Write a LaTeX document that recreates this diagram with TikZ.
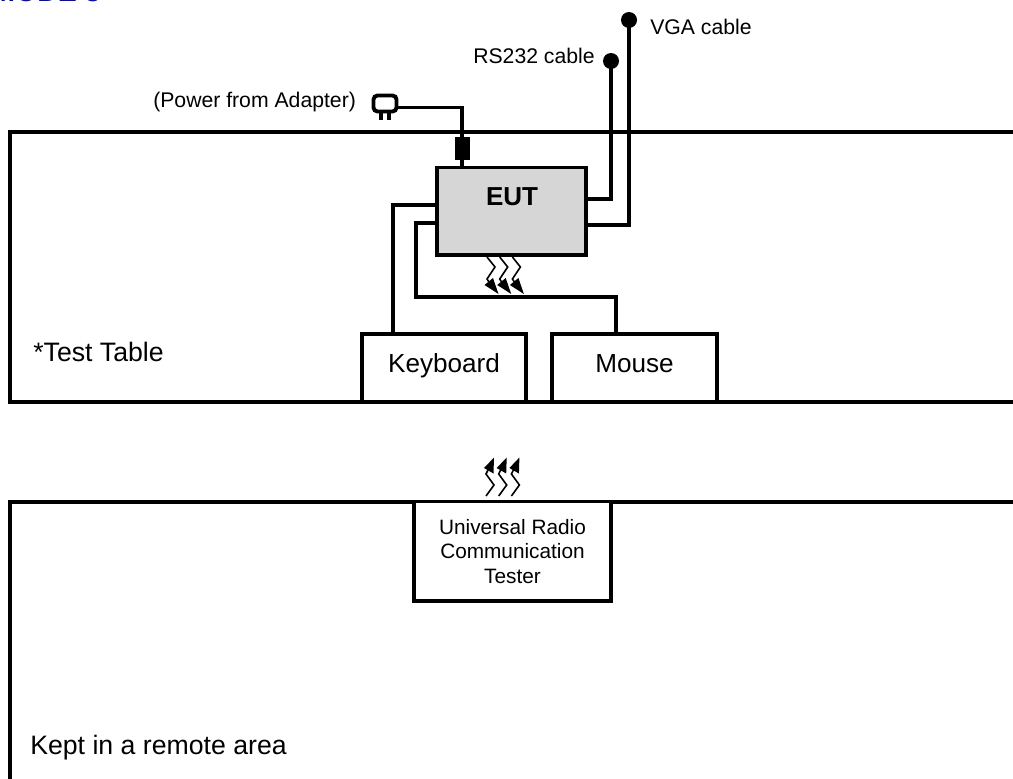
\documentclass[tikz,border=0pt]{standalone}
\usepackage{fontspec}
\setmainfont{Liberation Sans}
\usetikzlibrary{calc}
\tikzset{
  x=0.75pt,y=-0.75pt,
  wire/.style={line width=2.5pt,line join=miter},
  boxed/.style={draw=black,line width=2.5pt,inner sep=0pt,outer sep=0pt,anchor=north west},
  big/.style={font=\fontsize{19.6pt}{23pt}\selectfont},
  small/.style={font=\fontsize{15.9pt}{19pt}\selectfont},
  zig/.style={line width=1.2pt,line join=miter},
  head/.style={fill=black,draw=none},
}
\begin{document}
\begin{tikzpicture}
\useasboundingbox (0,0) rectangle (1013,778);
% title, cut off by the page edge as in the reference
\node[anchor=base east,text=blue,inner sep=0pt,font=\fontsize{21.4pt}{25pt}\selectfont\bfseries] (title) at (101,2) {MODE 3};
% tables
\draw[wire] (1020,132) -- (10,132) -- (10,402) -- (1020,402);
\draw[wire] (1020,502) -- (10,502) -- (10,790);
% boxes
\node[boxed,fill=black!16,minimum width=149pt*0.75,minimum height=87.5pt*0.75] (eut) at (437,167.5) {};
\node[font=\fontsize{19.5pt}{23pt}\selectfont\bfseries,inner sep=0pt] (euttext) at (512,197) {EUT};
\node[boxed,fill=white,minimum width=164pt*0.75,minimum height=68pt*0.75,big,text height=14pt,text depth=7pt] (kbd) at (362,334) {Keyboard};
\node[boxed,fill=white,minimum width=165pt*0.75,minimum height=68pt*0.75,big,text height=14pt,text depth=7pt] (mouse) at (552,334) {Mouse};
\node[boxed,fill=white,minimum width=197pt*0.75,minimum height=99.5pt*0.75,align=center,font=\fontsize{15.6pt}{18.5pt}\selectfont] (urct) at (414,501.5) {Universal Radio\\Communication\\Tester};
% labels
\node[anchor=west,inner sep=0pt,font=\fontsize{20pt}{23pt}\selectfont] (tt) at (33,352) {*Test Table};
\node[anchor=west,inner sep=0pt,font=\fontsize{20pt}{23pt}\selectfont] (ka) at (30,748) {Kept in a remote area};
\node[anchor=west,inner sep=0pt,small] (vga) at (650,27) {VGA cable};
\node[anchor=west,inner sep=0pt,small] (rs) at (473,56) {RS232 cable};
\node[anchor=west,inner sep=0pt,small] (pw) at (153,102) {(Power from Adapter)};
% cable ends
\node[circle,fill=black,minimum size=12pt,inner sep=0pt] (vgadot) at (629,20) {};
\node[circle,fill=black,minimum size=12pt,inner sep=0pt] (rsdot) at (611,61) {};
\draw[wire] (vgadot.center) -- (629,225) -- (eut.east |- 0,225);
\draw[wire] (rsdot.center) -- (611,199) -- (eut.east |- 0,199);
\draw[wire] (eut.west |- 0,205) -- (393,205) -- (393,334);
\draw[wire] (eut.west |- 0,223) -- (416,223) -- (416,297) -- (616,297) -- (616,334);
% adapter
\node[draw=black,line width=2.9pt,rounded corners=3pt,minimum width=23pt*0.75,minimum height=16pt*0.75,inner sep=0pt,outer sep=0pt] (adapter) at (385,103.5) {};
\draw[line width=2.6pt] (381,112) -- (381,120);
\draw[line width=2.6pt] (389,112) -- (389,120);
\node[fill=black,minimum width=15pt*0.75,minimum height=23pt*0.75,inner sep=0pt] (plug) at (462.5,148.5) {};
\draw[wire] (adapter.east |- 0,107.5) -- (462,107.5) -- (462,167);
% radio waves, EUT side
\foreach \d in {0,12.7,25.4}{
  \begin{scope}[xshift=\d*0.75pt]
    \draw[zig] (487,257) -- (495,267) -- (487,279) -- (491,285);
    \fill[head] (484.5,285) -- (493,278) -- (498.5,294) -- cycle;
  \end{scope}
}
% radio waves, tester side
\foreach \d in {0,12.7,25.4}{
  \begin{scope}[xshift=\d*0.75pt]
    \draw[zig] (486,496) -- (494,485) -- (486,474) -- (489,468);
    \fill[head] (484,468) -- (494,457.5) -- (493.5,473.5) -- cycle;
  \end{scope}
}
\end{tikzpicture}
\end{document}
